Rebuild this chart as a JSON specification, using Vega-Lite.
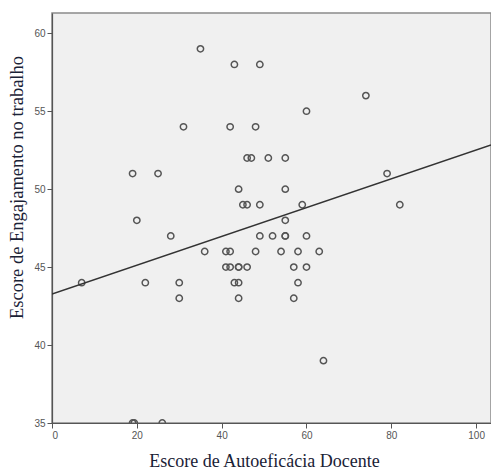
{
  "$schema": "https://vega.github.io/schema/vega-lite/v6.json",
  "autosize": {"type": "none"},
  "padding": {"left": 52, "top": 13, "right": 0, "bottom": 49},
  "width": 439,
  "height": 410,
  "background": "white",
  "config": {
    "view": {"fill": "#f0f0f0", "stroke": "#8a8a8a", "strokeWidth": 1.5},
    "axis": {
      "grid": false,
      "domainColor": "#555555",
      "domainWidth": 1.2,
      "tickColor": "#555555",
      "tickSize": 5,
      "labelFont": "Liberation Sans",
      "labelFontSize": 10,
      "labelColor": "#555555",
      "titleFont": "Liberation Serif",
      "titleFontWeight": "normal",
      "titleColor": "#1a2236"
    }
  },
  "datasets": {
    "pts": [
      {"autoeficacia": 35, "engajamento": 59},
      {"autoeficacia": 43, "engajamento": 58},
      {"autoeficacia": 49, "engajamento": 58},
      {"autoeficacia": 74, "engajamento": 56},
      {"autoeficacia": 60, "engajamento": 55},
      {"autoeficacia": 31, "engajamento": 54},
      {"autoeficacia": 42, "engajamento": 54},
      {"autoeficacia": 48, "engajamento": 54},
      {"autoeficacia": 46, "engajamento": 52},
      {"autoeficacia": 47, "engajamento": 52},
      {"autoeficacia": 51, "engajamento": 52},
      {"autoeficacia": 55, "engajamento": 52},
      {"autoeficacia": 19, "engajamento": 51},
      {"autoeficacia": 25, "engajamento": 51},
      {"autoeficacia": 79, "engajamento": 51},
      {"autoeficacia": 44, "engajamento": 50},
      {"autoeficacia": 55, "engajamento": 50},
      {"autoeficacia": 45, "engajamento": 49},
      {"autoeficacia": 46, "engajamento": 49},
      {"autoeficacia": 49, "engajamento": 49},
      {"autoeficacia": 59, "engajamento": 49},
      {"autoeficacia": 82, "engajamento": 49},
      {"autoeficacia": 20, "engajamento": 48},
      {"autoeficacia": 55, "engajamento": 48},
      {"autoeficacia": 28, "engajamento": 47},
      {"autoeficacia": 49, "engajamento": 47},
      {"autoeficacia": 52, "engajamento": 47},
      {"autoeficacia": 55, "engajamento": 47},
      {"autoeficacia": 55, "engajamento": 47},
      {"autoeficacia": 60, "engajamento": 47},
      {"autoeficacia": 36, "engajamento": 46},
      {"autoeficacia": 41, "engajamento": 46},
      {"autoeficacia": 42, "engajamento": 46},
      {"autoeficacia": 48, "engajamento": 46},
      {"autoeficacia": 54, "engajamento": 46},
      {"autoeficacia": 58, "engajamento": 46},
      {"autoeficacia": 63, "engajamento": 46},
      {"autoeficacia": 41, "engajamento": 45},
      {"autoeficacia": 42, "engajamento": 45},
      {"autoeficacia": 44, "engajamento": 45},
      {"autoeficacia": 44, "engajamento": 45},
      {"autoeficacia": 46, "engajamento": 45},
      {"autoeficacia": 57, "engajamento": 45},
      {"autoeficacia": 60, "engajamento": 45},
      {"autoeficacia": 7, "engajamento": 44},
      {"autoeficacia": 22, "engajamento": 44},
      {"autoeficacia": 30, "engajamento": 44},
      {"autoeficacia": 43, "engajamento": 44},
      {"autoeficacia": 44, "engajamento": 44},
      {"autoeficacia": 58, "engajamento": 44},
      {"autoeficacia": 30, "engajamento": 43},
      {"autoeficacia": 44, "engajamento": 43},
      {"autoeficacia": 57, "engajamento": 43},
      {"autoeficacia": 64, "engajamento": 39},
      {"autoeficacia": 19, "engajamento": 35},
      {"autoeficacia": 19.4, "engajamento": 35},
      {"autoeficacia": 26, "engajamento": 35}
    ],
    "fit": [
      {"autoeficacia": 0, "engajamento": 43.27},
      {"autoeficacia": 103.5, "engajamento": 52.84}
    ]
  },
  "layer": [
    {
      "data": {"name": "pts"},
      "mark": {"type": "point", "shape": "circle", "filled": false, "stroke": "#555555", "strokeWidth": 1.5, "size": 40, "opacity": 1, "clip": true},
      "encoding": {
        "x": {
          "field": "autoeficacia", "type": "quantitative",
          "scale": {"domain": [0, 103.5], "nice": false, "zero": false},
          "axis": {"values": [0, 20, 40, 60, 80, 100], "title": "Escore de Autoeficácia Docente", "titleFontSize": 18, "titlePadding": 12, "titleX": 212}
        },
        "y": {
          "field": "engajamento", "type": "quantitative",
          "scale": {"domain": [35, 61.3], "nice": false, "zero": false},
          "axis": {"values": [35, 40, 45, 50, 55, 60], "title": "Escore de Engajamento no trabalho", "titleFontSize": 18.5, "titleX": -26, "titleY": 174, "titleBaseline": "bottom"}
        }
      }
    },
    {
      "data": {"name": "fit"},
      "mark": {"type": "line", "color": "#333333", "strokeWidth": 1.5, "clip": true},
      "encoding": {
        "x": {"field": "autoeficacia", "type": "quantitative"},
        "y": {"field": "engajamento", "type": "quantitative"}
      }
    }
  ]
}
